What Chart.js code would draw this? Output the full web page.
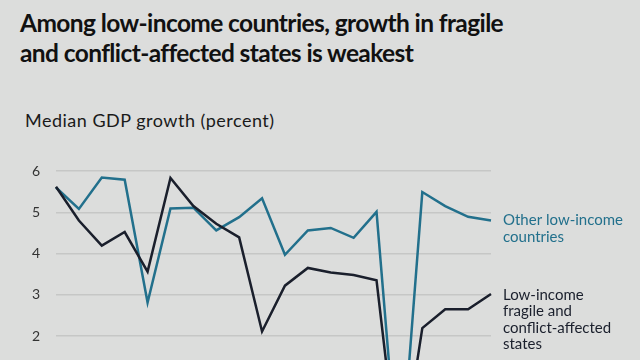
<!DOCTYPE html>
<html>
<head>
<meta charset="utf-8">
<script src="https://cdn.jsdelivr.net/npm/chart.js@4"></script>
<style>
  html, body { margin: 0; padding: 0; width: 640px; height: 360px; overflow: hidden; background: #dcdddc; }
  #title { position: absolute; left: 20px; top: 8px; font-family: Lato, sans-serif; font-weight: 700; font-size: 24.5px; line-height: 30px; color: #111; letter-spacing: -0.6px; white-space: nowrap; }
  #sub { position: absolute; left: 25px; top: 109px; font-family: Lato, sans-serif; font-size: 18px; color: #1a1a1a; letter-spacing: 0.5px; white-space: nowrap; }
  #wrap { position: absolute; left: 0; top: 0; width: 640px; height: 540px; }
</style>
</head>
<body>
<div id="title">Among low-income countries, growth in fragile<br>and conflict-affected states is weakest</div>
<div id="sub">Median GDP growth (percent)</div>
<div id="wrap"><canvas id="c" width="640" height="540"></canvas></div>
<script>
const years = ["2005","2006","2007","2008","2009","2010","2011","2012","2013","2014","2015","2016","2017","2018","2019","2020","2021","2022","2023","2024"];
const otherLowIncome = [5.60, 5.08, 5.84, 5.79, 2.81, 5.09, 5.11, 4.56, 4.88, 5.34, 3.97, 4.56, 4.62, 4.38, 5.01, -1.70, 5.49, 5.15, 4.89, 4.80];
const fragileStates  = [5.62, 4.80, 4.19, 4.52, 3.56, 5.83, 5.15, 4.72, 4.39, 2.11, 3.22, 3.65, 3.54, 3.48, 3.35, -1.40, 2.19, 2.65, 2.65, 3.02];
const yTicks = [6, 5, 4, 3, 2, 1, 0, -1, -2];
const labelOther = ["Other low-income", "countries"];
const labelFragile = ["Low-income", "fragile and", "conflict-affected", "states"];

const BLUE = "#22708c";
const DARK = "#1a1f2c";

const endLabels = {
  id: "endLabels",
  afterDraw(chart) {
    const ctx = chart.ctx;
    const x = chart.chartArea.right + 12;
    const y = chart.scales.y;
    ctx.save();
    ctx.font = "15px Lato, sans-serif";
    ctx.textBaseline = "middle";
    ctx.textAlign = "left";
    ctx.fillStyle = BLUE;
    const yo = y.getPixelForValue(otherLowIncome[otherLowIncome.length - 1]);
    labelOther.forEach((t, i) => ctx.fillText(t, x, yo + i * 16.5));
    ctx.fillStyle = DARK;
    const yf = y.getPixelForValue(fragileStates[fragileStates.length - 1]) + 1;
    labelFragile.forEach((t, i) => ctx.fillText(t, x, yf + i * 16.5));
    ctx.restore();
  }
};

new Chart(document.getElementById("c"), {
  type: "line",
  data: {
    labels: years,
    datasets: [
      { label: "Low-income fragile and conflict-affected states", data: fragileStates, borderColor: DARK, borderWidth: 2.5, pointRadius: 0, tension: 0, fill: false },
      { label: "Other low-income countries", data: otherLowIncome, borderColor: BLUE, borderWidth: 2.5, pointRadius: 0, tension: 0, fill: false }
    ]
  },
  options: {
    responsive: false,
    animation: false,
    layout: { padding: { top: 171, left: 10, right: 149, bottom: 31 } },
    plugins: { legend: { display: false }, tooltip: { enabled: false } },
    scales: {
      x: {
        offset: false,
        ticks: { display: false },
        grid: { display: false },
        border: { display: false }
      },
      y: {
        min: -2, max: 6,
        afterBuildTicks: s => { s.ticks = yTicks.map(v => ({ value: v })); },
        afterFit: s => { s.width = 46; },
        ticks: { padding: 16, color: "#333", font: { family: "Lato", size: 14 } },
        grid: { color: "#c6c7c6", lineWidth: 1.5, drawTicks: false },
        border: { display: false }
      }
    }
  },
  plugins: [endLabels]
});
</script>
</body>
</html>
